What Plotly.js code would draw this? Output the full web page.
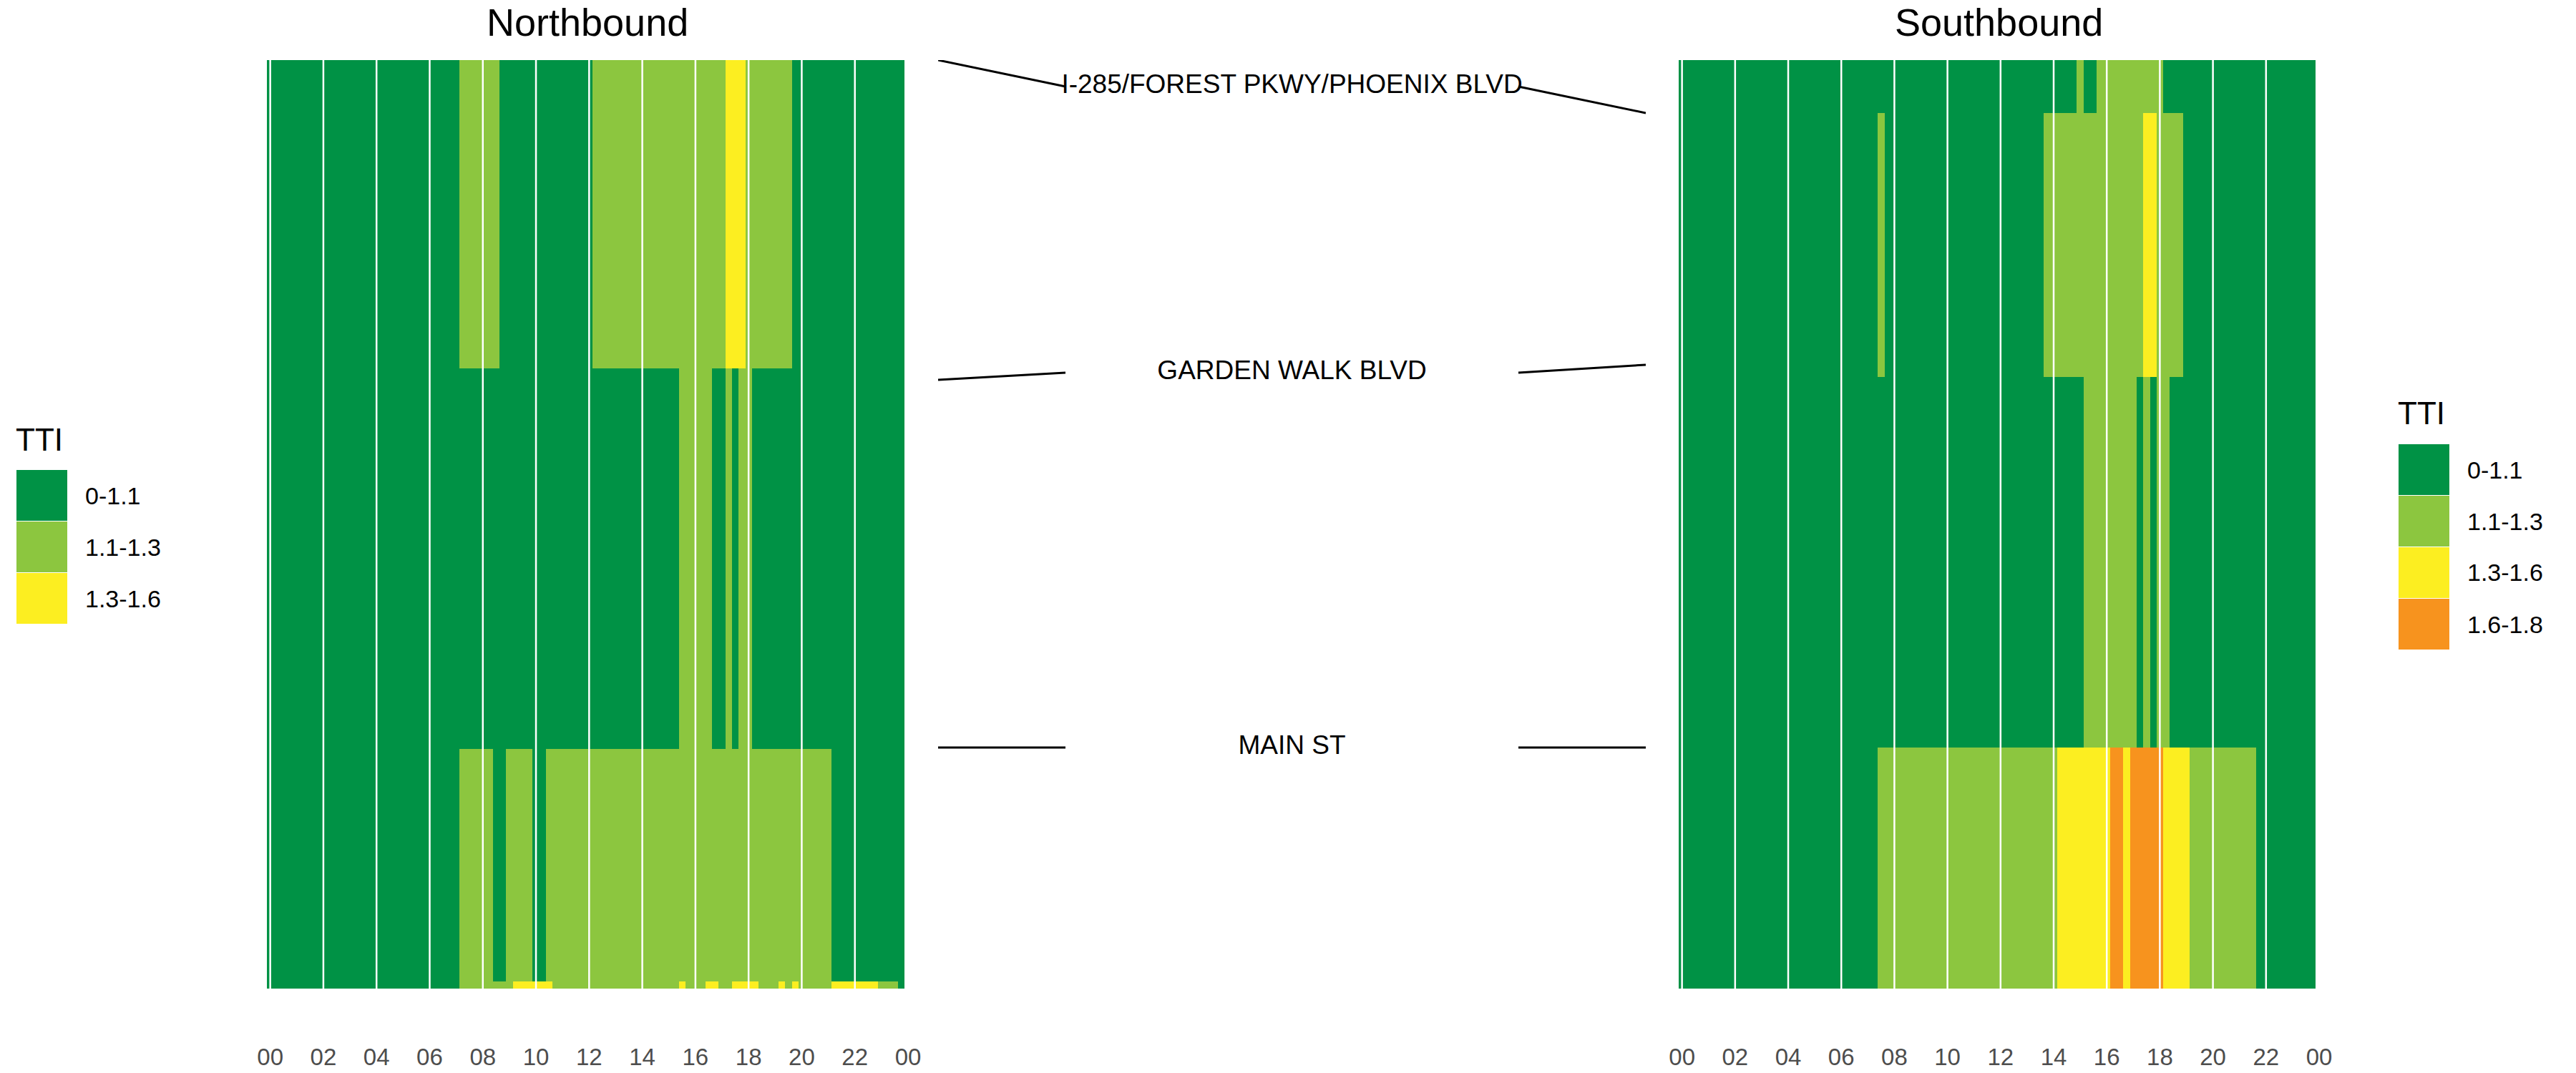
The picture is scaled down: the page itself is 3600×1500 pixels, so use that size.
<!DOCTYPE html>
<html><head><meta charset="utf-8">
<script src="https://cdn.plot.ly/plotly-3.0.1.min.js"></script>
<style>html,body{margin:0;padding:0;background:#fff}#chart{width:3600px;height:1500px}</style>
</head><body><div id="chart"></div>
<script>
const W = 3600, H = 1500;
const FONT = 'Liberation Sans, Arial, Helvetica, sans-serif';

// TTI classes (legend)
const ttiLabels = ['0-1.1', '1.1-1.3', '1.3-1.6', '1.6-1.8'];
const ttiColors = ['#009245', '#8CC63F', '#FCEE21', '#F7931E'];

// x axis: time of day
const hourTickVals = [0, 2, 4, 6, 8, 10, 12, 14, 16, 18, 20, 22, 24];
const hourTickText = ['00', '02', '04', '06', '08', '10', '12', '14', '16', '18', '20', '22', '00'];

// y axis: position along the corridor (distance units, 0 = south end); segment edges bottom -> top
const nbEdges = [0, 0.10, 3.35, 8.67, 12.98];
const sbEdges = [0, 3.37, 8.55, 12.24, 12.98];

// TTI class per 15-minute interval, one group of four per hour (00..23); rows listed top -> bottom
const nbRow1 = '0000 0000 0000 0000 0000 0000 0000 0111 1110 0000 0000 0000 0111 1111 1111 1111 1111 1222 1111 1110 0000 0000 0000 0000';
const nbRow2 = '0000 0000 0000 0000 0000 0000 0000 0000 0000 0000 0000 0000 0000 0000 0000 0011 1110 0101 1000 0000 0000 0000 0000 0000';
const nbRow3 = '0000 0000 0000 0000 0000 0000 0000 0111 1100 1111 0011 1111 1111 1111 1111 1111 1111 1111 1111 1111 1111 1000 0000 0000';
const nbRow4 = '0000 0000 0000 0000 0000 0000 0000 0111 1111 1222 2221 1111 1111 1111 1111 1121 1122 1122 2211 1212 1111 1222 2222 1110';

const sbRow1 = '0000 0000 0000 0000 0000 0000 0000 0000 0000 0000 0000 0000 0000 0000 0000 1001 1111 1111 1000 0000 0000 0000 0000 0000';
const sbRow2 = '0000 0000 0000 0000 0000 0000 0000 0010 0000 0000 0000 0000 0000 0001 1111 1111 1111 1122 1111 0000 0000 0000 0000 0000';
const sbRow3 = '0000 0000 0000 0000 0000 0000 0000 0000 0000 0000 0000 0000 0000 0000 0000 0111 1111 1010 1100 0000 0000 0000 0000 0000';
const sbRow4 = '0000 0000 0000 0000 0000 0000 0000 0011 1111 1111 1111 1111 1111 1111 1222 2222 2332 3333 3222 2111 1111 1110 0000 0000';

// cross streets: position in each direction and of the label
const roads = ['I-285/FOREST PKWY/PHOENIX BLVD', 'GARDEN WALK BLVD', 'MAIN ST'];
const roadPosNB = [12.98, 8.51, 3.37];
const roadPosSB = [12.24, 8.72, 3.37];
const roadPosLabel = [12.61, 8.61, 3.37];

// ---------------------------------------------------------------
const parseRow = s => s.replace(/\s+/g, '').split('').map(Number);
const binCenters = parseRow(nbRow1).map((_, i) => i * 0.25);
const nbZ = [nbRow4, nbRow3, nbRow2, nbRow1].map(parseRow);
const sbZ = [sbRow4, sbRow3, sbRow2, sbRow1].map(parseRow);

const n = ttiColors.length;
const colorscale = [];
ttiColors.forEach((c, i) => { colorscale.push([i / n, c]); colorscale.push([(i + 1) / n, c]); });

const px = v => v / W;
const py = v => 1 - v / H;

const yDomain = [py(1382), py(84)];
const yRange = [0, 12.98];

function heat(z, edges, xa, ya) {
  return {
    type: 'heatmap', x: binCenters, y: edges, z: z,
    colorscale: colorscale, zmin: -0.5, zmax: n - 0.5, showscale: false,
    zsmooth: false, xaxis: xa, yaxis: ya, hoverinfo: 'skip'
  };
}

const traces = [heat(nbZ, nbEdges, 'x', 'y'), heat(sbZ, sbEdges, 'x3', 'y3')];

roads.forEach((r, i) => {
  traces.push({ type: 'scatter', mode: 'lines', x: [0, 0.18], y: [roadPosNB[i], roadPosLabel[i]],
    xaxis: 'x2', yaxis: 'y2', line: { color: '#000', width: 3 }, hoverinfo: 'skip', showlegend: false });
  traces.push({ type: 'scatter', mode: 'lines', x: [0.82, 1], y: [roadPosLabel[i], roadPosSB[i]],
    xaxis: 'x2', yaxis: 'y2', line: { color: '#000', width: 3 }, hoverinfo: 'skip', showlegend: false });
});
traces.push({ type: 'scatter', mode: 'text', x: roads.map(() => 0.5), y: roadPosLabel, text: roads,
  textposition: 'middle center', textfont: { family: FONT, size: 37, color: '#000' },
  xaxis: 'x2', yaxis: 'y2', hoverinfo: 'skip', showlegend: false });

const timeAxis = dom => ({
  domain: dom, range: [-0.125, 24], tickvals: hourTickVals, ticktext: hourTickText,
  ticks: 'outside', ticklen: 66, tickcolor: 'rgba(0,0,0,0)', showgrid: false, zeroline: false,
  showline: false, tickfont: { family: FONT, size: 33, color: '#4D4D4D' }, fixedrange: true
});
const hiddenY = { domain: yDomain, range: yRange, visible: false, fixedrange: true };

const shapes = [];
const annotations = [];

// white hour lines over the tiles
['x', 'x3'].forEach(xa => {
  hourTickVals.filter(h => h < 24).forEach(h => {
    shapes.push({ type: 'line', xref: xa, yref: (xa === 'x' ? 'y' : 'y3') + ' domain', x0: h, x1: h, y0: 0, y1: 1,
      line: { color: '#FFFFFF', width: 2.5 }, layer: 'above' });
  });
});

// panel titles
[['Northbound', 'x'], ['Southbound', 'x3']].forEach(([t, xa]) => {
  annotations.push({ text: t, xref: xa + ' domain', x: 0.5, yref: 'paper', y: 1, yanchor: 'top', borderpad: 0,
    xanchor: 'center', showarrow: false, font: { family: FONT, size: 54, color: '#000' } });
});

// legends
function legend(x0, titleY, keyTop, count) {
  annotations.push({ text: 'TTI', xref: 'paper', yref: 'paper', x: px(x0 - 3), y: py(titleY), xanchor: 'left',
    yanchor: 'middle', showarrow: false, font: { family: FONT, size: 44, color: '#000' } });
  for (let i = 0; i < count; i++) {
    const top = keyTop + i * 72;
    shapes.push({ type: 'rect', xref: 'paper', yref: 'paper', x0: px(x0), x1: px(x0 + 71), y0: py(top), y1: py(top + 71),
      fillcolor: ttiColors[i], line: { width: 0 }, layer: 'above' });
    annotations.push({ text: ttiLabels[i], xref: 'paper', yref: 'paper', x: px(x0 + 94), y: py(top + 35.5),
      xanchor: 'left', yanchor: 'middle', showarrow: false, font: { family: FONT, size: 34, color: '#000' } });
  }
}
legend(23, 614, 657, 3);
legend(3352, 577, 621, 4);

const layout = {
  width: W, height: H, autosize: false,
  margin: { l: 0, r: 0, t: 0, b: 0, pad: 0 },
  paper_bgcolor: '#FFFFFF', plot_bgcolor: 'rgba(0,0,0,0)',
  showlegend: false,
  font: { family: FONT },
  xaxis: Object.assign(timeAxis([px(373), px(1269)]), { anchor: 'y' }),
  yaxis: Object.assign({}, hiddenY, { anchor: 'x' }),
  xaxis2: { domain: [px(1311), px(2300)], range: [0, 1], visible: false, anchor: 'y2', fixedrange: true },
  yaxis2: Object.assign({}, hiddenY, { anchor: 'x2' }),
  xaxis3: Object.assign(timeAxis([px(2346), px(3241)]), { anchor: 'y3' }),
  yaxis3: Object.assign({}, hiddenY, { anchor: 'x3' }),
  shapes: shapes, annotations: annotations
};

Plotly.newPlot('chart', traces, layout, { staticPlot: true, displayModeBar: false });
</script>
</body></html>
